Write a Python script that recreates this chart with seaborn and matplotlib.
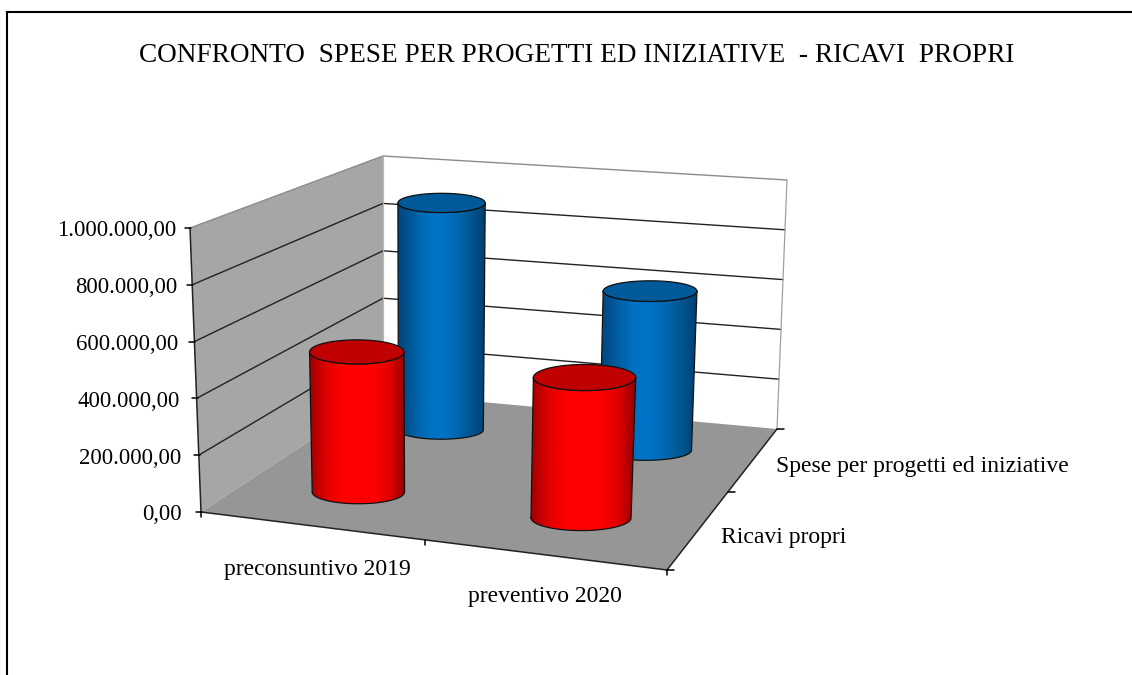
import numpy as np
import pandas as pd
import matplotlib
matplotlib.use("Agg")
import matplotlib.pyplot as plt
from matplotlib.patches import Polygon
import seaborn as sns

# ---- data ----
title = "CONFRONTO  SPESE PER PROGETTI ED INIZIATIVE  - RICAVI  PROPRI"
categories = ["preconsuntivo 2019", "preventivo 2020"]
series_names = ["Ricavi propri", "Spese per progetti ed iniziative"]
ricavi_propri = [515000, 510000]
spese_progetti = [910000, 625000]
value_ticks = [0, 200000, 400000, 600000, 800000, 1000000]
value_labels = ["0,00", "200.000,00", "400.000,00", "600.000,00", "800.000,00", "1.000.000,00"]
VMAX = 1000000

sns.set_theme(style="white", rc={"font.family": ["Liberation Serif", "DejaVu Serif"]})
plt.rcParams["font.family"] = ["Liberation Serif", "DejaVu Serif"]

df = pd.DataFrame({
    "categoria": categories * 2,
    "serie": [series_names[0]] * 2 + [series_names[1]] * 2,
    "valore": ricavi_propri + spese_progetti,
})

# corners of the 3D box on the page (x, y)
FL0, FR0, BL0, BR0 = map(np.array, [(201, 512), (667, 570), (383, 393), (777, 429)])
FL1, FR1, BL1, BR1 = map(np.array, [(190, 228), (680, 282), (383, 156), (787, 180)])


def project(c, s, v):
    """c: 0..1 along categories, s: 0..1 front to back, v: 0..1 height"""
    c = c - 0.08 * c * (1 - c)   # perspective foreshortening
    s = s + 0.20 * s * (1 - s)
    bottom = (1 - s) * ((1 - c) * FL0 + c * FR0) + s * ((1 - c) * BL0 + c * BR0)
    top = (1 - s) * ((1 - c) * FL1 + c * FR1) + s * ((1 - c) * BL1 + c * BR1)
    return (1 - v) * bottom + v * top


fig = plt.figure(figsize=(11.32, 6.75), dpi=100)
ax = fig.add_axes([0, 0, 1, 1])
ax.set_xlim(0, 1132)
ax.set_ylim(675, 0)
ax.axis("off")

WALL = "#a6a6a6"
FLOOR = "#969696"
EDGE = "#8c8c8c"
DARK = "#222222"
LABEL_SIZE = 17

# walls and floor
ax.add_patch(Polygon([project(0, 0, 0), project(0, 1, 0), project(0, 1, 1), project(0, 0, 1)],
                     fc=WALL, ec="none", zorder=1))
ax.add_patch(Polygon([project(0, 1, 0), project(1, 1, 0), project(1, 1, 1), project(0, 1, 1)],
                     fc="white", ec="none", zorder=1))

# gridlines
for t in value_ticks[1:]:
    v = t / VMAX
    col = EDGE if t == VMAX else DARK
    pts = np.array([project(0, 0, v), project(0, 1, v), project(1, 1, v)])
    ax.plot(pts[:, 0], pts[:, 1], color=col, lw=1.0, zorder=2, solid_joinstyle="miter")
p = np.array([project(0, 1, 0), project(0, 1, 1)])
ax.plot(p[:, 0], p[:, 1], color="#b8b8b8", lw=0.9, zorder=2)
p = np.array([project(1, 1, 0), project(1, 1, 1)])
ax.plot(p[:, 0], p[:, 1], color="#a0a0a0", lw=0.9, zorder=2)

ax.add_patch(Polygon([project(0, 0, 0), project(1, 0, 0), project(1, 1, 0), project(0, 1, 0)],
                     fc=FLOOR, ec="none", zorder=3))

# axis lines
for a, b in [(project(0, 0, 0), project(0, 0, 1)),
             (project(0, 0, 0), project(1, 0, 0)),
             (project(1, 0, 0), project(1, 1, 0))]:
    ax.plot([a[0], b[0]], [a[1], b[1]], color=DARK, lw=1.1, zorder=4)

# value ticks and labels
for t, lab in zip(value_ticks, value_labels):
    v = t / VMAX
    x, y = project(0, 0, v)
    ax.plot([x - 5, x + 1], [y, y], color="black", lw=1.1, zorder=4)
    ax.text(x - 19 + 5 * v, y + 3, lab, ha="right", va="center", fontsize=LABEL_SIZE - 0.6, color="black")

# category ticks and labels
for c in np.linspace(0, 1, len(categories) + 1):
    x, y = project(c, 0, 0)
    ax.plot([x, x], [y, y + 5], color="black", lw=1.1, zorder=4)
cat_offsets = [(7, 44), (1, 42)]
for i, lab in enumerate(categories):
    x, y = project((i + 0.5) / len(categories), 0, 0)
    ax.text(x + cat_offsets[i][0], y + cat_offsets[i][1], lab, ha="center", va="center",
            fontsize=LABEL_SIZE, color="black")

# series ticks and labels
for s in np.linspace(0, 1, len(series_names) + 1):
    x, y = project(1, s, 0)
    ax.plot([x, x + 7], [y, y], color="black", lw=1.1, zorder=4)
for i, lab in enumerate(series_names):
    x, y = project(1, (i + 0.5) / len(series_names), 0)
    ax.text(x + 22, y + 8, lab, ha="left", va="center", fontsize=LABEL_SIZE, color="black")

# cylinders
red_cmap = sns.blend_palette(["#a00000", "#e00000", "#ff0000", "#ff0000", "#ff0000", "#e00000", "#900000"], as_cmap=True)
blue_cmap = sns.blend_palette(["#00457a", "#005c9e", "#0070c0", "#0074c8", "#0068b0", "#00558f", "#003f70"], as_cmap=True)
top_colors = ["#c00000", "#005a9a"]
cmaps = [red_cmap, blue_cmap]
RADIUS = 0.108
BAR_DY = 2
FLAT = [0.255, 0.22]
theta = np.linspace(0, np.pi, 60)


def cylinder(c, s, v, idx, z):
    bl, br = project(c - RADIUS, s, 0), project(c + RADIUS, s, 0)
    tl, tr = project(c - RADIUS, s, v), project(c + RADIUS, s, v)
    bc, tc = (bl + br) / 2, (tl + tr) / 2
    bc[1] += BAR_DY
    tc[1] += BAR_DY
    ba, ta = abs(br[0] - bl[0]) / 2, abs(tr[0] - tl[0]) / 2
    bb, tb = ba * FLAT[idx], ta * FLAT[idx]
    lower = np.c_[bc[0] - ba * np.cos(theta), bc[1] + bb * np.sin(theta)]
    upper = np.c_[tc[0] + ta * np.cos(theta), tc[1] + tb * np.sin(theta)]
    body = np.vstack([lower, upper, lower[:1]])
    patch = Polygon(body, closed=True, fc="none", ec="none", zorder=z)
    ax.add_patch(patch)
    grad = np.linspace(0, 1, 256).reshape(1, -1)
    x0, x1 = body[:, 0].min(), body[:, 0].max()
    y0, y1 = body[:, 1].min(), body[:, 1].max()
    im = ax.imshow(grad, cmap=cmaps[idx], extent=[x0, x1, y1, y0], aspect="auto", zorder=z, interpolation="bilinear")
    im.set_clip_path(patch)
    ax.plot(body[:, 0], body[:, 1], color="#111111", lw=0.9, zorder=z + 0.1)
    t2 = np.linspace(0, 2 * np.pi, 120)
    top = np.c_[tc[0] + ta * np.cos(t2), tc[1] + tb * np.sin(t2)]
    ax.add_patch(Polygon(top, closed=True, fc=top_colors[idx], ec="#111111", lw=0.9, zorder=z + 0.2))


ns = len(series_names)
nc = len(categories)
z = 5
for s_i in reversed(range(ns)):
    sub = df[df["serie"] == series_names[s_i]]
    for c_i, cat in enumerate(categories):
        val = sub.loc[sub["categoria"] == cat, "valore"].iloc[0]
        cylinder((c_i + 0.5) / nc, (s_i + 0.5) / ns, val / VMAX, s_i, z)
        z += 1

# title and frame
ax.text(577, 56, title, ha="center", va="center", fontsize=19.6, color="black", zorder=10)
ax.plot([7, 7], [675, 12], color="black", lw=1.5, zorder=10, solid_capstyle="projecting")
ax.plot([7, 1132], [12, 12], color="black", lw=1.5, zorder=10, solid_capstyle="projecting")
ax.set_xlim(0, 1132)
ax.set_ylim(675, 0)

fig.savefig("out.png", dpi=100, facecolor="white")
